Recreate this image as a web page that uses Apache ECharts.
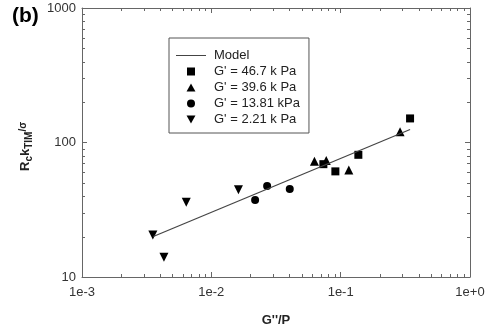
<!DOCTYPE html>
<html>
<head>
<meta charset="utf-8">
<script src="https://cdn.jsdelivr.net/npm/echarts@6/dist/echarts.min.js"></script>
<style>html,body{margin:0;padding:0;background:#fff;}#c{width:495px;height:329px;}</style>
</head>
<body>
<div id="c"></div>
<script>
// Data (x = G''/P, y = Rc kTIM / sigma)
const modelLine = [[0.00356, 20.0], [0.344, 125]];
const g467 = [[0.344, 151], [0.137, 81], [0.091, 61], [0.0735, 69]];
const g396 = [[0.288, 120], [0.0627, 72.5], [0.0774, 73.5], [0.1156, 62.5]];
const g1381 = [[0.027, 47.5], [0.0218, 37.3], [0.0404, 45.1]];
const g221 = [[0.00353, 20.5], [0.0043, 14.0], [0.0064, 35.9], [0.0162, 44.6]];
const seriesNames = ['Model', "G' = 46.7 k Pa", "G' = 39.6 k Pa", "G' = 13.81 kPa", "G' = 2.21 k Pa"];
const xRange = [0.001, 1];
const yRange = [10, 1000];

const axisColor = '#666';
const font = 'Arial, "Liberation Sans", sans-serif';

function decadeMinors(lo, hi) {
  const out = [];
  for (let e = Math.round(Math.log10(lo)); e < Math.round(Math.log10(hi)); e++) {
    for (let m = 2; m <= 9; m++) out.push(m * Math.pow(10, e));
  }
  return out;
}
const xMinor = decadeMinors(xRange[0], xRange[1]);
const yMinor = decadeMinors(yRange[0], yRange[1]);

const chart = echarts.init(document.getElementById('c'), null, {renderer: 'canvas'});

const baseAxis = {
  type: 'log', logBase: 10,
  axisLine: {show: true, lineStyle: {color: axisColor, width: 1}},
  axisTick: {show: true, inside: true, length: 5, lineStyle: {color: axisColor}},
  splitLine: {show: false},
  minorTick: {show: false}
};

const labelText = {type: 'text', id: 'panel', left: 12, top: 6,
  style: {text: '(b)', font: 'bold 21px ' + font, fill: '#000'}};

chart.setOption({
  animation: false,
  textStyle: {fontFamily: font},
  grid: {left: 82, right: 25, top: 8, bottom: 52, containLabel: false, outerBoundsMode: 'none'},
  graphic: [labelText],
  legend: {
    orient: 'vertical', left: 169, top: 38,
    padding: [11, 9, 7, 7],
    itemWidth: 30, itemHeight: 8, itemGap: 3,
    symbolKeepAspect: true,
    borderColor: '#555', borderWidth: 1, backgroundColor: '#fff',
    textStyle: {fontSize: 13, color: '#222', fontFamily: font, padding: [0, 0, 0, 3]},
    data: [
      {name: seriesNames[0], icon: 'path://M0,0 L30,0 L30,1 L0,1 Z'},
      {name: seriesNames[1], icon: 'path://M0,0 L8,0 L8,8 L0,8 Z'},
      {name: seriesNames[2], icon: 'path://M5,0 L10,9 L0,9 Z'},
      {name: seriesNames[3], icon: 'circle'},
      {name: seriesNames[4], icon: 'path://M0,0 L10,0 L5,9 Z'}
    ]
  },
  xAxis: [
    Object.assign({}, baseAxis, {
      position: 'bottom', min: xRange[0], max: xRange[1],
      name: "G''/P", nameLocation: 'middle', nameGap: 37,
      nameTextStyle: {fontWeight: 'bold', fontSize: 13, color: '#222', fontFamily: font},
      axisLabel: {show: true, margin: 9, fontSize: 13, color: '#333', fontFamily: font,
        showMinLabel: true, showMaxLabel: true,
        formatter: function (v) { const e = Math.round(Math.log10(v)); return '1e' + (e >= 0 ? '+' : '') + e; }}
    }),
    Object.assign({}, baseAxis, {
      position: 'top', min: xRange[0], max: xRange[1],
      axisLabel: {show: false}
    })
  ],
  yAxis: [
    Object.assign({}, baseAxis, {
      position: 'left', min: yRange[0], max: yRange[1],
      name: '{n|R}{s|c}{n|k}{s|TIM}{m|/σ}', nameLocation: 'middle', nameGap: 48,
      nameTextStyle: {fontWeight: 'bold', fontSize: 13, color: '#222', fontFamily: font,
        padding: [0, 8, 0, 0],
        rich: {
          n: {fontWeight: 'bold', fontSize: 13, fontFamily: font, color: '#222'},
          s: {fontWeight: 'bold', fontSize: 10, fontFamily: font, color: '#222', padding: [8, 0, 0, 0]},
          m: {fontWeight: 'bold', fontSize: 10, fontFamily: font, color: '#222', padding: [0, 0, 4, 0]}
        }},
      axisLabel: {show: true, margin: 6, fontSize: 13, color: '#333', fontFamily: font,
        showMinLabel: true, showMaxLabel: true,
        formatter: function (v) { return String(Math.round(v)); }}
    }),
    Object.assign({}, baseAxis, {
      position: 'right', min: yRange[0], max: yRange[1],
      axisLabel: {show: false}
    })
  ],
  series: [
    {
      name: seriesNames[0], type: 'line', data: modelLine,
      xAxisIndex: 0, yAxisIndex: 0,
      symbol: 'none', showSymbol: false,
      lineStyle: {color: '#444', width: 1.2}, itemStyle: {color: '#444'}
    },
    {name: seriesNames[1], type: 'scatter', data: g467, symbol: 'rect', symbolSize: 8,
      itemStyle: {color: '#000', opacity: 1}},
    {name: seriesNames[2], type: 'scatter', data: g396, symbol: 'triangle', symbolSize: 9,
      itemStyle: {color: '#000', opacity: 1}},
    {name: seriesNames[3], type: 'scatter', data: g1381, symbol: 'circle', symbolSize: 8,
      itemStyle: {color: '#000', opacity: 1}},
    {name: seriesNames[4], type: 'scatter', data: g221, symbol: 'triangle', symbolRotate: 180, symbolSize: 9,
      itemStyle: {color: '#000', opacity: 1}}
  ]
});

// Minor ticks at 2..9 of each decade, placed through the axes' own scale
(function () {
  const els = [labelText];
  const st = {stroke: axisColor, lineWidth: 1};
  const L = 3;
  const p0 = chart.convertToPixel({gridIndex: 0}, [xRange[0], yRange[0]]);
  const p1 = chart.convertToPixel({gridIndex: 0}, [xRange[1], yRange[1]]);
  const left = p0[0], bottom = p0[1], right = p1[0], top = p1[1];
  let i = 0;
  xMinor.forEach(function (v) {
    const px = Math.round(chart.convertToPixel({gridIndex: 0}, [v, 100])[0]) + 0.5;
    els.push({type: 'line', id: 'mt' + (i++), silent: true, shape: {x1: px, y1: bottom, x2: px, y2: bottom - L}, style: st});
    els.push({type: 'line', id: 'mt' + (i++), silent: true, shape: {x1: px, y1: top, x2: px, y2: top + L}, style: st});
  });
  yMinor.forEach(function (v) {
    const py = Math.round(chart.convertToPixel({gridIndex: 0}, [0.01, v])[1]) + 0.5;
    els.push({type: 'line', id: 'mt' + (i++), silent: true, shape: {x1: left, y1: py, x2: left + L, y2: py}, style: st});
    els.push({type: 'line', id: 'mt' + (i++), silent: true, shape: {x1: right, y1: py, x2: right - L, y2: py}, style: st});
  });
  chart.setOption({graphic: els});
})();
</script>
</body>
</html>
